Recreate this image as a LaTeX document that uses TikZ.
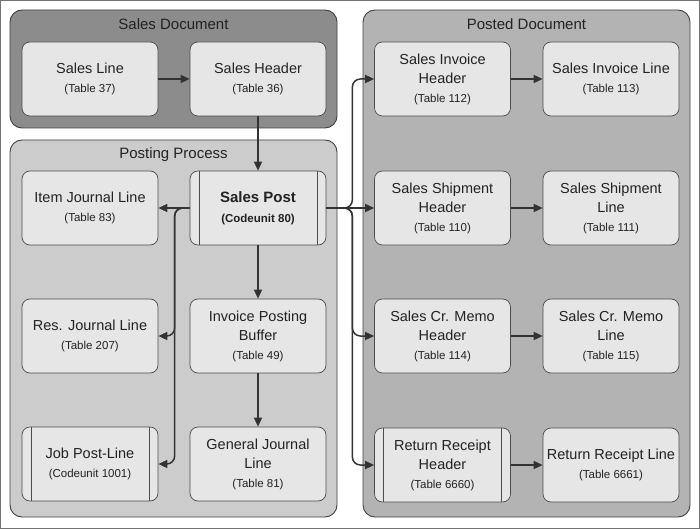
\documentclass[tikz,border=0pt]{standalone}
\usepackage{fontspec}
\setmainfont{Liberation Sans}
\usetikzlibrary{arrows.meta}
\definecolor{boxfill}{HTML}{E6E6E6}
\definecolor{docfill}{HTML}{8C8C8C}
\definecolor{postfill}{HTML}{CCCCCC}
\definecolor{postedfill}{HTML}{B3B3B3}
\definecolor{edgecol}{HTML}{333333}
\definecolor{textcol}{HTML}{222222}
\newcommand{\tblno}[1]{{\fontsize{11.5}{19}\selectfont(#1)}}
\tikzset{
  grp/.style={draw=black!75, line width=0.9pt, rounded corners=12pt},
  grptitle/.style={text=textcol, font=\fontsize{15}{18}\selectfont},
  box/.style={draw=black!70, line width=0.7pt, fill=boxfill, rounded corners=8pt,
    minimum width=136pt, minimum height=74pt, align=center, text=textcol,
    font=\fontsize{14.5}{19}\selectfont, inner sep=1pt},
  subbox/.style={box, path picture={
      \draw[black!70, line width=0.7pt]
        ([xshift=9pt]path picture bounding box.north west) --
        ([xshift=9pt]path picture bounding box.south west)
        ([xshift=-9pt]path picture bounding box.north east) --
        ([xshift=-9pt]path picture bounding box.south east);}},
  flow/.style={draw=edgecol, line width=1.5pt, rounded corners=8pt,
    -{Triangle[length=9pt,width=8pt]}}
}
\begin{document}
\begin{tikzpicture}[x=1pt,y=-1pt]
      \useasboundingbox (0,0) rectangle (700,529);
      \draw[black!55, line width=1pt] (0.5,0.5) rectangle (699.5,528.5);
      \path
        (173.5,69) node[grp, fill=docfill, minimum width=327pt, minimum height=118pt] (salesdoc){}
        (173.5,328.5) node[grp, fill=postfill, minimum width=327pt, minimum height=377pt] (posting){}
        (526.5,263.5) node[grp, fill=postedfill, minimum width=327pt, minimum height=507pt] (posted){}
        (173.5,24) node[grptitle] (salesdoctitle){Sales Document}
        (173.5,155) node[grptitle] (postingtitle){Posting Process}
        (526.5,24) node[grptitle] (postedtitle){Posted Document};
      \path
        (90,79) node[box] (salesline){Sales Line\\\tblno{Table 37}}
        (258,79) node[box] (saleshdr){Sales Header\\\tblno{Table 36}}
        (90,208) node[box] (itemjnl){Item Journal Line\\\tblno{Table 83}}
        (258,208) node[subbox, font=\fontsize{15}{20}\selectfont\bfseries] (post){Sales Post\\\tblno{Codeunit 80}}
        (90,336) node[box] (resjnl){Res. Journal Line\\\tblno{Table 207}}
        (258,336) node[box] (ipb){Invoice Posting\\Buffer\\\tblno{Table 49}}
        (90,464) node[subbox] (jobpost){Job Post-Line\\\tblno{Codeunit 1001}}
        (258,464) node[box] (genjnl){General Journal\\Line\\\tblno{Table 81}}
        (442.5,79) node[box] (invhdr){Sales Invoice\\Header\\\tblno{Table 112}}
        (611,79) node[box] (invline){Sales Invoice Line\\\tblno{Table 113}}
        (442.5,208) node[box] (shiphdr){Sales Shipment\\Header\\\tblno{Table 110}}
        (611,208) node[box] (shipline){Sales Shipment\\Line\\\tblno{Table 111}}
        (442.5,336) node[box] (crmemohdr){Sales Cr. Memo\\Header\\\tblno{Table 114}}
        (611,336) node[box] (crmemoline){Sales Cr. Memo\\Line\\\tblno{Table 115}}
        (442.5,465) node[subbox] (rcpthdr){Return Receipt\\Header\\\tblno{Table 6660}}
        (611,465) node[box] (rcptline){Return Receipt Line\\\tblno{Table 6661}};
      \begin{scope}[flow]
        \draw (salesline) to (saleshdr);
        \draw (saleshdr) to (post);
        \draw (post) to (itemjnl);
        \draw (post.west) -- ++(-15,0) |- (resjnl.east);
        \draw (post.west) -- ++(-15,0) |- (jobpost.east);
        \draw (post) to (ipb);
        \draw (ipb) to (genjnl);
        \draw (post.east) -- ++(26,0) |- (invhdr.west);
        \draw (post) to (shiphdr);
        \draw (post.east) -- ++(26,0) |- (crmemohdr.west);
        \draw (post.east) -- ++(26,0) |- (rcpthdr.west);
        \draw (invhdr) to (invline);
        \draw (shiphdr) to (shipline);
        \draw (crmemohdr) to (crmemoline);
        \draw (rcpthdr) to (rcptline);
      \end{scope}
    \end{tikzpicture}
\end{document}
